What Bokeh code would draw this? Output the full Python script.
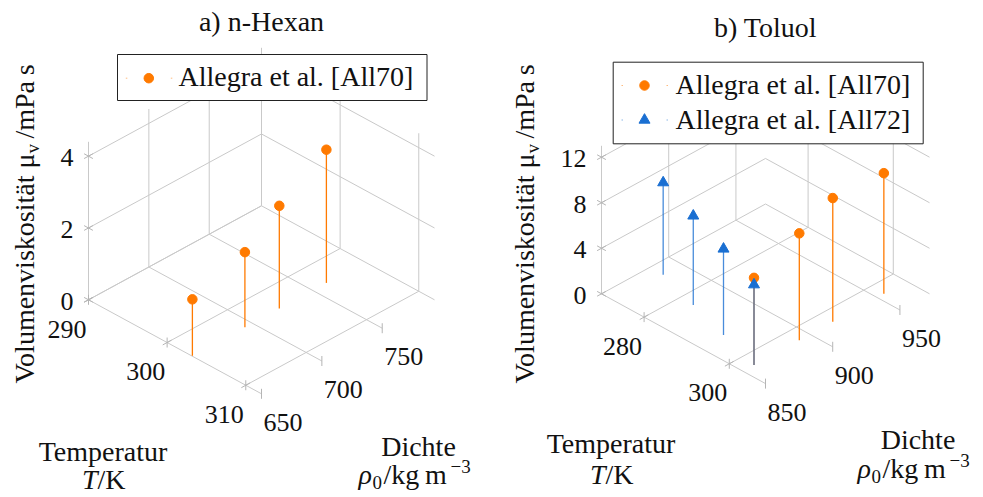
import math

from bokeh.embed import file_html
from bokeh.models import Label
from bokeh.plotting import figure
from bokeh.resources import INLINE

W, H = 983, 497

# ---- data: bulk viscosity of liquids (Allegra et al.) ----
# n-Hexan [All70]
hexan_T = [303.15, 303.15, 303.15, 303.15]
hexan_rho = [650.4, 693.9, 722.4, 761.4]
hexan_mu = [1.57, 2.09, 2.86, 3.71]

# Toluol [All70]
toluol70_T = [303.15, 303.15, 303.15, 303.15]
toluol70_rho = [858.4, 892.1, 917.0, 955.0]
toluol70_mu = [7.65, 9.38, 10.87, 10.60]

# Toluol [All72]
toluol72_T = [273.15, 283.15, 293.15, 303.15]
toluol72_rho = [885.9, 876.6, 867.4, 858.4]
toluol72_mu = [8.09, 7.82, 7.56, 7.05]

# ---- ticks ----
hexan_T_ticks = [290, 300, 310]
hexan_rho_ticks = [650, 700, 750]
hexan_mu_ticks = [0, 2, 4]
toluol_T_ticks = [280, 300]
toluol_rho_ticks = [850, 900, 950]
toluol_mu_ticks = [0, 4, 8, 12]

SERIF = "Liberation Serif"
MID = 0.3375          # em offset from baseline to the middle of the text box
ORANGE = "#ff7a00"
BLUE = "#1a6fd2"
GRID = "#c9c9c9"
TICK = "#b5b5b5"
TXT = "#111111"


class Box3D:
    """Oblique projection of a (T, rho, mu) box onto the page (y measured downwards)."""

    def __init__(self, T_lim, R_lim, Z_lim, origin, a, b, c):
        self.T_lim, self.R_lim, self.Z_lim = T_lim, R_lim, Z_lim
        self.ox, self.oy = origin
        self.a, self.b, self.c = a, b, c

    def top(self, T, R, Z):
        u = (T - self.T_lim[0]) / (self.T_lim[1] - self.T_lim[0])
        v = (R - self.R_lim[0]) / (self.R_lim[1] - self.R_lim[0])
        w = (Z - self.Z_lim[0]) / (self.Z_lim[1] - self.Z_lim[0])
        return self.ox + self.a * (u + v), self.oy + self.b * (u - v) - self.c * w

    def xy(self, T, R, Z):
        x, yt = self.top(T, R, Z)
        return x, H - yt

    def dir_T(self):
        n = math.hypot(self.a, self.b)
        return self.a / n, -self.b / n

    def dir_R(self):
        n = math.hypot(self.a, self.b)
        return self.a / n, self.b / n


p = figure(width=W, height=H, x_range=(0, W), y_range=(0, H),
           output_backend="svg", toolbar_location=None,
           x_axis_location=None, y_axis_location=None, min_border=0)
p.grid.visible = False
p.outline_line_color = None
p.background_fill_color = "white"


def label(x, y_base, text, size=28, align="left", rotated=False, style="normal"):
    """Place text by its baseline (page coordinates, y downwards)."""
    if rotated:
        x_mid, y_mid, angle = x - MID * size, y_base, math.pi / 2
    else:
        x_mid, y_mid, angle = x, y_base - MID * size, 0.0
    p.add_layout(Label(x=x_mid, y=H - y_mid, text=text, text_font=SERIF,
                       text_font_size=f"{size}px", text_align=align,
                       text_baseline="middle", angle=angle,
                       text_font_style=style, text_color=TXT))


def draw_box(box, Tt, Rt, Zt):
    T0, T1 = box.T_lim
    R0, R1 = box.R_lim
    Z0, Z1 = box.Z_lim
    xs, ys = [], []

    def seg(p0, p1):
        xs.append([p0[0], p1[0]])
        ys.append([p0[1], p1[1]])

    # floor
    for t in Tt:
        seg(box.xy(t, R0, Z0), box.xy(t, R1, Z0))
    for r in Rt:
        seg(box.xy(T0, r, Z0), box.xy(T1, r, Z0))
    # wall at T min (rho-mu plane)
    for r in Rt:
        seg(box.xy(T0, r, Z0), box.xy(T0, r, Z1))
    for z in Zt:
        seg(box.xy(T0, R0, z), box.xy(T0, R1, z))
    # wall at rho max (T-mu plane)
    for t in Tt:
        seg(box.xy(t, R1, Z0), box.xy(t, R1, Z1))
    for z in Zt:
        seg(box.xy(T0, R1, z), box.xy(T1, R1, z))
    p.multi_line(xs, ys, line_color=GRID, line_width=1)

    # tick marks
    L = 5.0
    tx, ty = box.dir_T()
    rx, ry = box.dir_R()
    x0s, y0s, x1s, y1s = [], [], [], []

    def tick(x, y, dx, dy):
        x0s.append(x - L * dx)
        y0s.append(y - L * dy)
        x1s.append(x + L * dx)
        y1s.append(y + L * dy)

    for t in Tt:
        x, y = box.xy(t, R0, Z0)
        tick(x, y, 0, 1)
        tick(x, y, rx, ry)
    for r in Rt:
        x, y = box.xy(T1, r, Z0)
        tick(x, y, 0, 1)
    for z in Zt:
        x, y = box.xy(T0, R0, z)
        tick(x, y, tx, ty)
        tick(x, y, rx, ry)
    p.segment(x0s, y0s, x1s, y1s, line_color=TICK, line_width=1)

    # tick labels
    for t in Tt:
        x, yt = box.top(t, R0, Z0)
        label(x - 2, yt + 38, f"{t:g}", size=26, align="right")
    for r in Rt:
        x, yt = box.top(T1, r, Z0)
        label(x + 2, yt + 37.5, f"{r:g}", size=26, align="left")
    for z in Zt:
        x, yt = box.top(T0, R0, z)
        label(x - 15, yt + 10.5, f"{z:g}", size=26, align="right")


def draw_stems(box, T, R, Z, color, marker, size, stem_alpha=1.0):
    fx, fy, mx, my = [], [], [], []
    for t, r, z in zip(T, R, Z):
        x0, y0 = box.xy(t, r, 0.0)
        x1, y1 = box.xy(t, r, z)
        fx.append(x0)
        fy.append(y0)
        mx.append(x1)
        my.append(y1)
    p.segment(fx, fy, mx, my, line_color=color, line_width=1.3, line_alpha=stem_alpha)
    p.scatter(mx, my, marker=marker, size=size, fill_color=color, line_color=color)


def legend_box(left, right, top, bottom):
    p.quad(left=[left], right=[right], top=[H - top], bottom=[H - bottom],
           fill_color="white", line_color="#222222", line_width=1)


def legend_entry(x_mark, y_mark, x_text, y_base, text, color, marker, size):
    p.segment([x_mark - 23, x_mark + 22], [H - y_mark, H - y_mark],
              [x_mark - 21.5, x_mark + 23.5], [H - y_mark, H - y_mark],
              line_color=color, line_width=1, line_alpha=0.5)
    p.scatter([x_mark], [H - y_mark], marker=marker, size=size,
              fill_color=color, line_color=color)
    label(x_text, y_base, text, size=28)


def y_title(x_base):
    # rotated title: "Volumenviskosität μ_v / mPa s"
    label(x_base, 383, "Volumenviskosität μ", rotated=True)
    label(x_base + 5, 153, "v", size=19, rotated=True)
    label(x_base, 101, "/mPa\u2009s", align="center", rotated=True)


def bottom_titles(x_temp, y_temp, y_TK, x_dichte, y_dichte, x_rho, y_rho):
    label(x_temp, y_temp, "Temperatur", align="center")
    label(x_temp - 5.5, y_TK, "T", align="right", style="italic")
    label(x_temp - 5.5, y_TK, "/K", align="left")
    label(x_dichte, y_dichte, "Dichte", align="center")
    label(x_rho, y_rho, "ρ", style="italic")
    label(x_rho + 14, y_rho + 4.5, "0", size=19)
    label(x_rho + 25, y_rho, "/kg\u2009m", align="left")
    label(x_rho + 92, y_rho - 11.5, "−3", size=19)


# ================= a) n-Hexan =================
box_a = Box3D((290, 312), (650, 793.3), (0, 4.4), origin=(88, 299.3),
              a=173, b=94, c=158)
draw_box(box_a, hexan_T_ticks, hexan_rho_ticks, hexan_mu_ticks)
legend_box(117, 426.5, 54, 100)
legend_entry(148.3, 77.7, 178, 85.5, "Allegra et al. [All70]", ORANGE, "circle", 9.5)
draw_stems(box_a, hexan_T, hexan_rho, hexan_mu, ORANGE, "circle", 9.5)

label(261, 30, "a) n-Hexan", align="center")
y_title(33.5)
bottom_titles(102.5, 460, 488, 418, 455, 358, 483.5)

# ================= b) Toluol =================
box_b = Box3D((270, 308.5), (850, 972), (0, 13), origin=(601, 293.3),
              a=164, b=89.8, c=148)
draw_box(box_b, toluol_T_ticks, toluol_rho_ticks, toluol_mu_ticks)
legend_box(612.7, 922.7, 61.7, 143.3)
legend_entry(644, 85, 675, 93.5, "Allegra et al. [All70]", ORANGE, "circle", 9.5)
legend_entry(644, 119.5, 675, 128.5, "Allegra et al. [All72]", BLUE, "triangle", 11)
draw_stems(box_b, toluol70_T, toluol70_rho, toluol70_mu, ORANGE, "circle", 9.5)
draw_stems(box_b, toluol72_T, toluol72_rho, toluol72_mu, BLUE, "triangle", 11,
           stem_alpha=0.8)

label(765, 36, "b) Toluol", align="center")
y_title(533.5)
bottom_titles(610.5, 452, 483, 917.5, 448, 857, 477.5)

open("out.html", "w").write(file_html(p, INLINE))
